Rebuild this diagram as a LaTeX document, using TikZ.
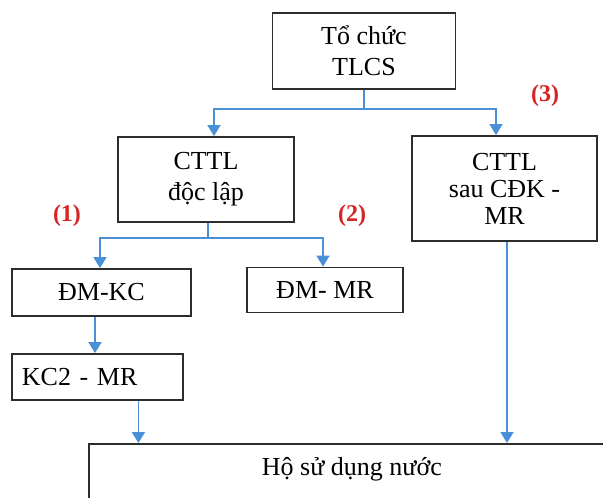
\documentclass[tikz,border=0pt]{standalone}
\usepackage{fontspec}
\setmainfont{Liberation Serif}
\usetikzlibrary{arrows.meta}
\definecolor{lineblue}{RGB}{74,144,217}
\definecolor{boxgray}{RGB}{45,45,45}
\definecolor{tagred}{RGB}{215,35,35}
\begin{document}
\begin{tikzpicture}[x=1pt,y=-1pt,
  every node/.style={font=\fontsize{26}{31}\selectfont},
  box/.style={draw=boxgray,line width=1.8pt,inner sep=0pt,align=center},
  link/.style={draw=lineblue,line width=1.6pt},
  arr/.style={link,-{Triangle[width=13pt,length=11pt]}},
  tag/.style={text=tagred,font=\fontsize{24}{28}\selectfont\bfseries}]
\clip (0,0) rectangle (603,498);
\fill[white] (0,0) rectangle (603,498);
% boxes
\node[box,minimum width=183,minimum height=76] (org) at (364,51) {Tổ chức\\TLCS};
\node[box,minimum width=176,minimum height=85] (indep) at (206,179.5) {CTTL\\độc lập};
\node[box,minimum width=185,minimum height=105,font=\fontsize{26}{27}\selectfont] (after) at (504.5,188.5) {CTTL\\sau CĐK -\\MR};
\node[box,minimum width=179,minimum height=47] (dmkc) at (101.5,292.5) {ĐM-KC};
\node[box,minimum width=156,minimum height=45] (dmmr) at (325,290) {ĐM- MR};
\node[box,anchor=west,minimum height=46,text width=151,inner xsep=10,align=left] (kc2) at (11,377) {KC2 - MR};
\node[box,anchor=north west,minimum width=526,text height=20,text depth=60,inner ysep=12] (ho) at (88,443) {Hộ sử dụng nước};
% branch numbers
\node[tag] (n1) at (67,216) {(1)};
\node[tag] (n2) at (352,216) {(2)};
\node[tag] (n3) at (545,96) {(3)};
% top split
\coordinate (split1) at (364,109);
\draw[link] (org.south) -- (split1);
\draw[arr] (split1) -| ([xshift=8]indep.north);
\draw[arr] (split1) -| ([xshift=-8.5]after.north);
% lower split
\coordinate (split2) at (208,238);
\draw[link] ([xshift=2]indep.south) -- (split2);
\draw[arr] (split2) -| ([xshift=-1.5]dmkc.north);
\draw[arr] (split2) -| ([xshift=-2]dmmr.north);
% down to users
\draw[arr] ([xshift=-6.5]dmkc.south) -- ([xshift=-6.5]dmkc.south |- kc2.north);
\draw[arr] ([xshift=41]kc2.south) -- ([xshift=41]kc2.south |- ho.north);
\draw[arr] ([xshift=2.5]after.south) -- ([xshift=2.5]after.south |- ho.north);
\end{tikzpicture}
\end{document}
